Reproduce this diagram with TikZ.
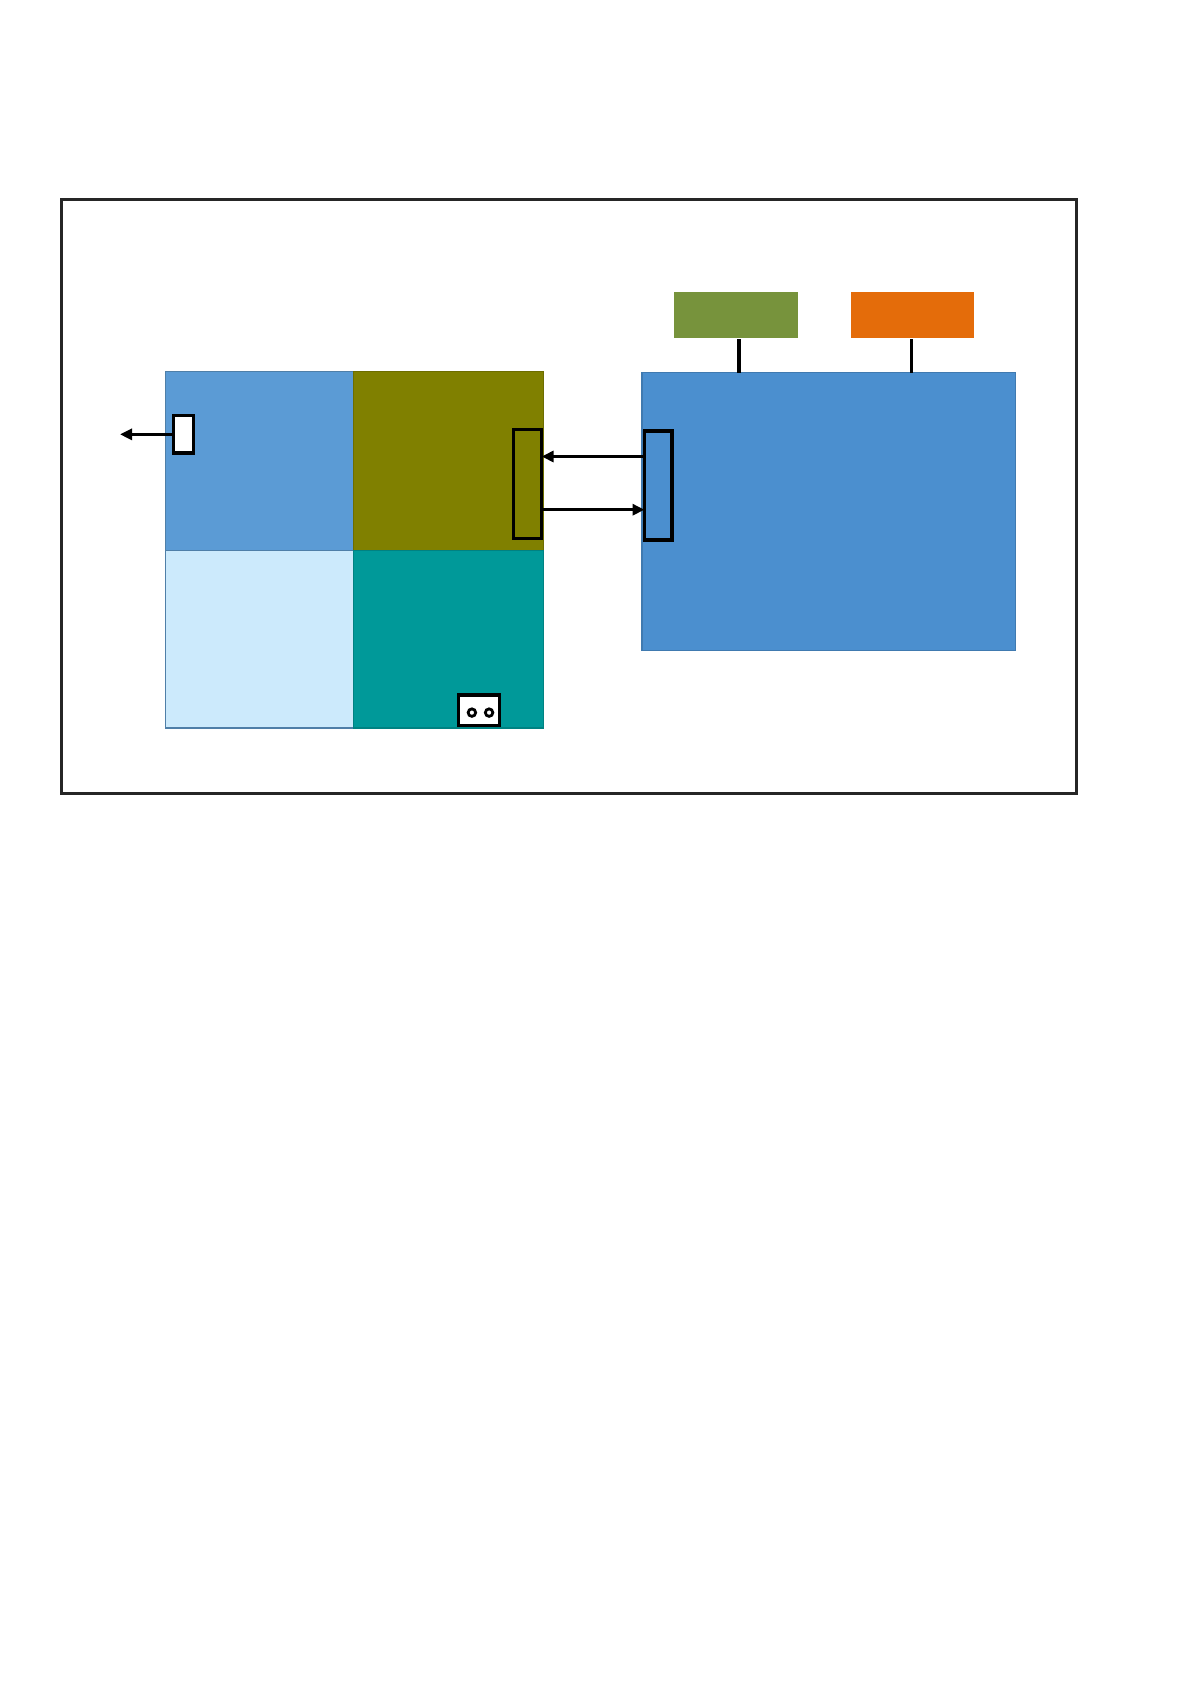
\documentclass[tikz,border=0pt]{standalone}
\usetikzlibrary{arrows.meta}
\definecolor{cellA}{HTML}{5B9BD5}
\definecolor{cellB}{HTML}{808000}
\definecolor{cellC}{HTML}{CCEAFC}
\definecolor{cellD}{HTML}{009999}
\definecolor{bigblue}{HTML}{4B8FCF}
\definecolor{gbox}{HTML}{77933C}
\definecolor{obox}{HTML}{E46C0A}
\definecolor{edgeblue}{HTML}{4F7FA8}
\tikzset{
  box/.style={rectangle, inner sep=0pt, outer sep=0pt},
  cell/.style={box, draw=edgeblue, line width=1.2pt},
  portbox/.style={box, draw=black, line width=3.6pt},
  arr/.style={line width=3pt, -{Triangle[length=12pt,width=11pt]}},
  wire/.style={line width=3.4pt},
  eye/.style={circle, draw=black, line width=2.8pt, minimum size=7.5pt, inner sep=0pt}
}
\begin{document}
\begin{tikzpicture}[x=1pt,y=-1pt]
  \useasboundingbox[fill=white] (0,0) rectangle (1191,1684);
  % outer frame
  \node[box, draw=black!85, line width=3pt, minimum width=1015pt, minimum height=594pt] (frame) at (568.5,496.3) {};
  % left grid
  \node[cell, fill=cellA, minimum width=188.3pt, minimum height=179.1pt] (tl) at (259.45,460.75) {};
  \node[cell, fill=cellB, draw=cellB!85!black, minimum width=189.8pt, minimum height=179.1pt] (tr) at (448.5,460.75) {};
  \node[cell, fill=cellC, minimum width=188.3pt, minimum height=177.6pt] (bl) at (259.45,639.1) {};
  \node[cell, fill=cellD, draw=cellD!85!black, minimum width=189.8pt, minimum height=177.6pt] (br) at (448.5,639.1) {};
  % small boxes in grid
  \node[portbox, fill=white, minimum width=20pt, minimum height=37.7pt] (wbox) at (183.5,434.35) {};
  \node[portbox, fill=cellB, minimum width=28.1pt, minimum height=109pt] (oport) at (527.55,484.1) {};
  \node[portbox, fill=white, minimum width=41.1pt, minimum height=30.1pt] (eyes) at (478.95,710.25) {};
  \node[eye] (e1) at (471.9,712.6) {};
  \node[eye] (e2) at (489.1,712.6) {};
  % right side
  \node[box, fill=gbox, minimum width=123.6pt, minimum height=45.5pt] (green) at (735.7,314.75) {};
  \node[box, fill=obox, minimum width=122.7pt, minimum height=45.5pt] (orange) at (912.25,314.75) {};
  \node[box, fill=bigblue, draw=bigblue!85!black, line width=1.2pt, minimum width=373.3pt, minimum height=278.1pt] (big) at (828.65,511.75) {};
  \node[portbox, fill=bigblue, minimum width=27.6pt, minimum height=108.9pt] (bport) at (658.3,485.25) {};
  % connectors
  \coordinate (outl) at (120,434.35);
  \draw[arr] (wbox.west) -- (outl);
  \draw[arr] ([yshift=28.75pt]bport.west) -- ([yshift=28.75pt]bport.west -| oport.east);
  \draw[arr] ([yshift=-24.45pt]bport.west -| oport.east) -- ([yshift=-24.45pt]bport.west);
  \draw[wire] ([xshift=3.3pt,yshift=-1.5pt]green.south) -- ([xshift=3.3pt]green.south |- big.north);
  \draw[wire] ([xshift=-0.6pt,yshift=-1.5pt]orange.south) -- ([xshift=-0.6pt]orange.south |- big.north);
\end{tikzpicture}
\end{document}
